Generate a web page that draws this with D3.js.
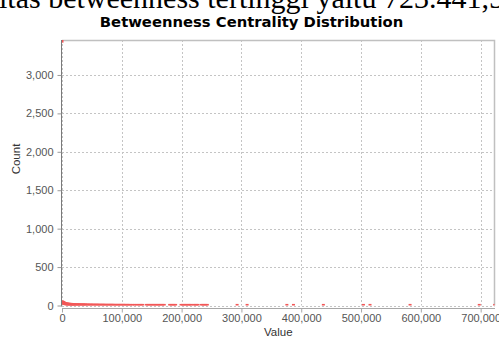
<!DOCTYPE html>
<html>
<head>
<meta charset="utf-8">
<script src="https://cdn.jsdelivr.net/npm/d3@7"></script>
<style>
  html, body { margin: 0; padding: 0; background: #fff; }
  svg { display: block; }
</style>
</head>
<body>
<svg id="chart" width="499" height="338"></svg>
<script>
// Betweenness centrality value of each distinct point and how many nodes share it
const betweenness = [
  0,
  500, 1000, 1500, 2000, 2500, 3000, 3500, 4000, 4500, 5000,
  6000, 7000, 8000, 9000, 10000, 11500, 13000, 14500, 16000, 17500,
  19000, 20500, 22000, 24000, 26000, 28000, 30000, 32000, 34000, 36000,
  38000, 40000, 42500, 45000, 47500, 50000, 52500, 55000, 57500, 60000,
  62500, 65000, 67500, 70000, 72500, 75000, 77500, 80000, 82500, 85000,
  87500, 90000, 92500, 95000, 97500, 100000, 102500, 105000, 107500, 110000,
  112500, 115000, 118000, 121000, 124000, 127000, 130000, 132500, 135000, 141000,
  143500, 146000, 148500, 151000, 153500, 156000, 158500, 161000, 163500, 166000,
  168500, 171000, 180000, 182500, 185000, 187500, 190000, 199000, 201500, 204000,
  206500, 209000, 211500, 214000, 216000, 220000, 222500, 225000, 227500, 233000,
  235500, 238000, 240500, 243000,
  292800, 309500, 376000, 387000, 437000, 504000, 515000, 582000, 697700, 723441.5
];
const counts = [
  3440,
  46, 42, 38, 40, 35, 30, 33, 28, 26, 24,
  22, 20, 19, 18, 16, 17, 15, 14, 14, 13,
  12, 12, 11, 11, 10, 10, 9, 9, 8, 8,
  8, 7, 7, 6, 6, 6, 5, 5, 5, 5,
  4, 4, 4, 4, 3, 3, 3, 3, 3, 3,
  2, 2, 2, 2, 2, 2, 2, 2, 1, 2,
  1, 1, 1, 1, 1, 1, 1, 1, 1, 1,
  1, 1, 1, 1, 1, 1, 1, 1, 1, 1,
  1, 1, 1, 1, 1, 1, 1, 1, 1, 1,
  1, 1, 1, 1, 1, 1, 1, 1, 1, 1,
  1, 1, 1, 1,
  1, 1, 1, 1, 1, 1, 1, 1, 1, 1
];
const xTicks = [0, 100000, 200000, 300000, 400000, 500000, 600000, 700000];
const yTicks = [0, 500, 1000, 1500, 2000, 2500, 3000];
const chartTitle = "Betweenness Centrality Distribution";
const xTitle = "Value";
const yTitle = "Count";
const captionText = "sentralitas betweenness tertinggi yaitu 723.441,5";

const points = betweenness.map((v, i) => ({ value: v, count: counts[i] }));

const svg = d3.select("#chart");
const plot = { left: 62, right: 494.5, top: 40, bottom: 305.5 };

const x = d3.scaleLinear().domain([0, 724000]).range([plot.left, plot.right + 0.5]);
const y = d3.scaleLinear().domain([0, 3455]).range([plot.bottom, plot.top]);
const fmt = d3.format(",");

// Sentence of the surrounding document, cut off by the top edge
const cap = svg.append("text")
  .attr("y", 8)
  .attr("font-family", "'Liberation Serif', 'Times New Roman', serif")
  .attr("font-size", 30)
  .attr("fill", "#000")
  .text(captionText);
const prefixLen = cap.node().getSubStringLength(0, "sentral".length);
cap.attr("x", -1 - prefixLen);

// Chart title
svg.append("text")
  .attr("x", 251.5)
  .attr("y", 26.5)
  .attr("text-anchor", "middle")
  .attr("font-family", "'DejaVu Sans', sans-serif")
  .attr("font-weight", "bold")
  .attr("font-size", 14.8)
  .attr("fill", "#000")
  .text(chartTitle);

// Plot background
svg.append("rect")
  .attr("x", plot.left).attr("y", plot.top)
  .attr("width", plot.right - plot.left).attr("height", plot.bottom - plot.top)
  .attr("fill", "#fff");

// Grid lines
const grid = svg.append("g")
  .attr("stroke", "#c4c4c4")
  .attr("stroke-width", 1)
  .attr("stroke-dasharray", "2,2");
grid.selectAll("line.v").data(xTicks).join("line")
  .attr("class", "v")
  .attr("x1", d => Math.round(x(d)) + 0.5).attr("x2", d => Math.round(x(d)) + 0.5)
  .attr("y1", plot.top).attr("y2", plot.bottom);
grid.selectAll("line.h").data(yTicks).join("line")
  .attr("class", "h")
  .attr("x1", plot.left).attr("x2", plot.right)
  .attr("y1", d => Math.round(y(d)) + 0.5).attr("y2", d => Math.round(y(d)) + 0.5);

// Plot outline (top and right)
svg.append("path")
  .attr("d", `M${plot.left},${plot.top + 0.5}H${plot.right}V${plot.bottom}`)
  .attr("fill", "none")
  .attr("stroke", "#c0c0c0")
  .attr("stroke-width", 1.5);

// Data points, clipped to the plot area
svg.append("clipPath").attr("id", "plotClip")
  .append("rect")
  .attr("x", plot.left).attr("y", plot.top)
  .attr("width", plot.right - plot.left).attr("height", plot.bottom - plot.top);

svg.append("g")
  .attr("clip-path", "url(#plotClip)")
  .selectAll("rect")
  .data(points)
  .join("rect")
  .attr("x", d => x(d.value) - 1.5)
  .attr("y", d => y(d.count) - 1.5)
  .attr("width", 3)
  .attr("height", 3)
  .attr("fill", "#f25858");

// Y axis
const yAxis = svg.append("g")
  .attr("transform", `translate(${plot.left - 0.5},0)`)
  .call(d3.axisLeft(y).tickValues(yTicks).tickFormat(fmt).tickSize(4).tickPadding(4));
yAxis.select(".domain").attr("stroke", "#7a7a7a").attr("d", `M0,${plot.top}V${plot.bottom + 1}`);
yAxis.selectAll(".tick line").attr("stroke", "#9a9a9a");
yAxis.selectAll(".tick text")
  .attr("font-family", "'Liberation Sans', Arial, sans-serif")
  .attr("font-size", 11)
  .attr("fill", "#555");

// X axis, offset slightly below the plot
const xAxis = svg.append("g")
  .attr("transform", `translate(0,${plot.bottom + 3})`)
  .call(d3.axisBottom(x).tickValues(xTicks).tickFormat(fmt).tickSize(4).tickPadding(2));
xAxis.select(".domain").attr("stroke", "#a8a8a8").attr("d", `M${plot.left},0H${plot.right + 0.5}`);
xAxis.selectAll(".tick line").attr("stroke", "#a8a8a8");
xAxis.selectAll(".tick text")
  .attr("font-family", "'Liberation Sans', Arial, sans-serif")
  .attr("font-size", 11)
  .attr("fill", "#555");

// Axis titles
svg.append("text")
  .attr("x", (plot.left + plot.right) / 2)
  .attr("y", 336)
  .attr("text-anchor", "middle")
  .attr("font-family", "'Liberation Sans', Arial, sans-serif")
  .attr("font-size", 11.5)
  .attr("fill", "#333")
  .text(xTitle);

svg.append("text")
  .attr("transform", "translate(20,159) rotate(-90)")
  .attr("text-anchor", "middle")
  .attr("font-family", "'Liberation Sans', Arial, sans-serif")
  .attr("font-size", 11.5)
  .attr("fill", "#333")
  .text(yTitle);
</script>
</body>
</html>
